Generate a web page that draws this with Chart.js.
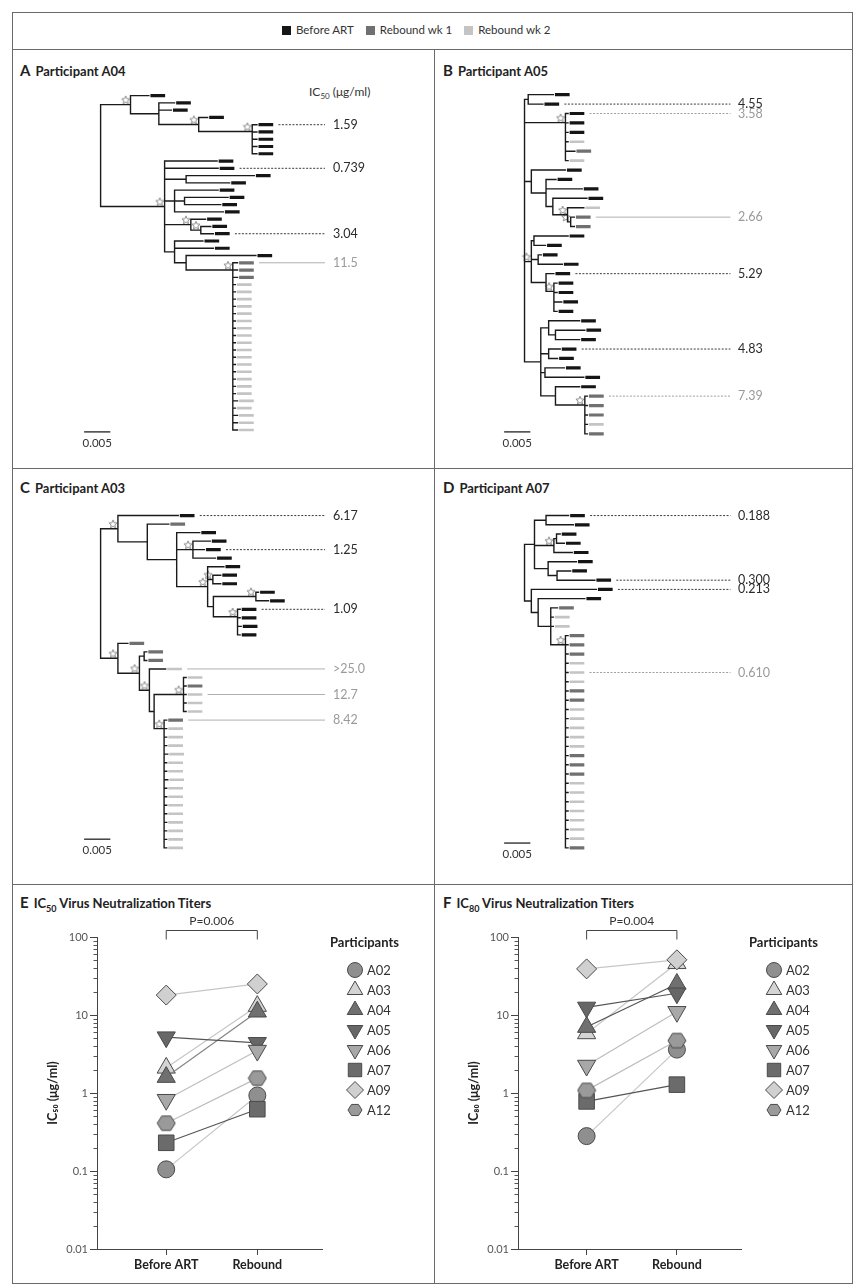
<!DOCTYPE html>
<html>
<head>
<meta charset="utf-8">
<script src="https://cdn.jsdelivr.net/npm/chart.js@4.4.1/dist/chart.umd.min.js"></script>
<style>
  body { margin: 0; background: #fff; font-family: Lato, "Open Sans", sans-serif; color: #222; }
  #fig { position: relative; width: 856px; height: 1286px; overflow: hidden; }
  .ln { position: absolute; background: #6a6a6a; }
  .ttl { position: absolute; font-weight: bold; font-size: 13px; color: #222; white-space: nowrap; }
  .ttl .L { font-size: 15px; margin-right: 5px; }
  .ttl sub { font-size: 9px; }
  #legend { position: absolute; left: 270px; top: 23px; font-size: 11.5px; color: #333; white-space: nowrap; }
  #legend span.sw { display: inline-block; width: 9px; height: 9px; margin: 0 5px -1px 12px; }
  #unit { position: absolute; left: 309px; top: 84px; font-size: 12px; color: #333; }
  #unit sub { font-size: 8px; }
  canvas { position: absolute; }
</style>
</head>
<body>
<div id="fig">
  <div class="ln" style="left:12px;top:12px;width:841px;height:1px"></div>
  <div class="ln" style="left:12px;top:1283px;width:841px;height:1px"></div>
  <div class="ln" style="left:12px;top:12px;width:1px;height:1272px"></div>
  <div class="ln" style="left:852px;top:12px;width:1px;height:1272px"></div>
  <div class="ln" style="left:12px;top:49px;width:841px;height:1px"></div>
  <div class="ln" style="left:12px;top:468px;width:841px;height:1px"></div>
  <div class="ln" style="left:12px;top:884px;width:841px;height:1px"></div>
  <div class="ln" style="left:434px;top:49px;width:1px;height:1235px"></div>
  <div id="legend"></div>
  <div class="ttl" id="tA" style="left:20px;top:61px"></div>
  <div class="ttl" id="tB" style="left:443px;top:61px"></div>
  <div class="ttl" id="tC" style="left:20px;top:478px"></div>
  <div class="ttl" id="tD" style="left:443px;top:478px"></div>
  <div class="ttl" style="left:20px;top:893px"><span class="L">E</span>IC<sub>50</sub> Virus Neutralization Titers</div>
  <div class="ttl" style="left:443px;top:893px"><span class="L">F</span>IC<sub>80</sub> Virus Neutralization Titers</div>
  <div id="unit">IC<sub>50</sub> (μg/ml)</div>
</div>
<script>
// ---- data ----
const groupNames = ['Before ART', 'Rebound wk 1', 'Rebound wk 2'];
const panelIds = ['A04', 'A05', 'A03', 'A07'];

// trees: branch lengths in 0.001 substitutions/site, B = before ART, R1 = rebound wk 1, R2 = rebound wk 2
// ! = tip with an IC50 value, * = starred node, [...] = comb of tips on one vertical
const treeA04 = '(' +
  '(B:3.5,(B:3,B:2.4,(B:1.7,[B!:0.9,B:0.9,B:0.9,B:0.9,B:0.9]*:10.2)*:7.6):5.4)*:5.7,' +
  '(B:10,B!:10.2,(B:13,B:8.3):4.1,(B:8.3,(B:8.3,B:6.9):1.9,B:9.3):1.9,(B:2.8,(B:1.9,B!:2.4)*:1.9)*:5,' +
  '(B:5.4,B:7.4,(B:13.3,[R1!:0.9,R1:0.9,R1:0.9,R2:0.5,R2:0.5,R2:0.5,R2:0.5,R2:0.5,R2:0.5,R2:0.5,R2:0.5,' +
  'R2:0.5,R2:0.5,R2:0.5,R2:0.5,R2:0.5,R2:0.5,R2:0.5,R2:0.5,R2:0.9,R2:0.5,R2:0.9,R2:0.9,R2:0.9]*:8.9):2.2):1.9)*:12.2)';
const treeA05 = '(' +
  '(B:4.8,B!:2.8):0.7,' +
  '[B!:0.5,B:0.5,B:0.5,R2:0.5,R1:1.8,R2:0.5]*:7.8,' +
  '(B:6.5,(B:1.9,B:6.9,(B:6.5,(R2:3.1,(R1!:0.7,R1:0.7)*:0.6)*:2.8):1.3):2.8):1.3,' +
  '((B:6.5,B:2.2):0.5,(B:0.6,B:4.6):1.3,(B!:1.5,[B:0.6,B:0.6,B:1.5,B:0.6]*:1.5):2.8)*:1.3,' +
  '((B:5.9,(B:5.6,B:4.6):1.3):1.5,(B!:2.2,B:1.7):1.5,(B:3.7,B:7.4):0.8,(B:4.6,[R1!:0.5,R1:0.5,R1:0.5,R2:0.5,R1:0.5]*:5.6):2.8):3.1)';
const treeA03 = '(' +
  '(B!:11.5,(R1:4.1,(B:4.4,(B:3.3,B!:2.2,B:4.3)*:3.1,(B:3.1,(B:1.5,B:1.5)*:1,((B:0.5,B:2.4)*:8.1,[B!:0.5,B:0.5,B:0.7,B:0.5]*:4.6):1.1)*:5.9):5.6):5.6)*:3.3,' +
  '(R1:1.9,((R1:0.5,R1:0.5):0.9,(R2!:3.1,((R2:0.5,R1:0.5,R2!:0.5,R2:0.5,R2:0.5)*:5.6,' +
  '[R1!:0.5,R2:0.5,R2:0.5,R2:0.5,R2:0.7,R2:0.5,R2:0.5,R2:0.7,R2:0.5,R2:0.5,R2:0.5,R2:0.5,R2:0.5,R2:0.5,R2:0.5,R2:0.5]*:1.9):0.9)*:1.9)*:4.1)*:3.3)';
const treeA07 = '(' +
  '((B!:4.3,B:5.2):2.2,((B:0.7,B:1.5):0.5,B:3.5)*:3.7,(B:5.4,(B:2.6,B!:7.2):1.7):2.6):1.9,' +
  '(B!:12.4,(B:8.9,(R1:1.3,R2:0.5,R2:0.5,[R1:0.5,R1:0.5,R1:0.5,R2:0.5,R2!:0.5,R2:0.5,R1:0.5,R1:0.5,R2:0.5,R2:0.5,R2:0.5,' +
  'R2:0.5,R2:0.5,R1:0.5,R1:0.5,R1:0.5,R2:0.5,R2:0.5,R2:0.5,R2:0.5,R2:0.5,R2:0.5,R2:0.5,R1:0.5]*:2.8):2.4):1.3):1.3)';

const ic50A04 = ['1.59', '0.739', '3.04', '11.5'];
const toneA04 = ['k', 'k', 'k', 'g'];
const ic50A05 = ['4.55', '3.58', '2.66', '5.29', '4.83', '7.39'];
const toneA05 = ['k', 'gd', 'g', 'k', 'k', 'gd'];
const ic50A03 = ['6.17', '1.25', '1.09', '>25.0', '12.7', '8.42'];
const toneA03 = ['k', 'k', 'k', 'g', 'g', 'g'];
const ic50A07 = ['0.188', '0.300', '0.213', '0.610'];
const toneA07 = ['k', 'k', 'k', 'gd'];
const scaleBarValue = 0.005;

const participants = ['A02', 'A03', 'A04', 'A05', 'A06', 'A07', 'A09', 'A12'];
const ic50Before  = [0.105, 2.1, 1.6, 5.2, 0.82, 0.23, 18, 0.41];
const ic50Rebound = [0.93, 13, 11, 4.4, 3.5, 0.62, 25, 1.55];
const ic80Before  = [0.28, 5.8, 7.0, 12.5, 2.25, 0.78, 39, 1.08];
const ic80Rebound = [3.6, 46, 25, 19, 11, 1.28, 51, 4.7];
const timeLabels = ['Before ART', 'Rebound'];
const yTickValues = [0.01, 0.1, 1, 10, 100];
const yTickLabels = ['0.01', '0.1', '1', '10', '100'];

// ---- styles ----
Chart.defaults.font.family = "Lato, 'Open Sans', sans-serif";
const PX = 5.4; // pixels per 0.001 substitutions/site
const BAR_GAP = 0.3, BAR_LEN = 2.8;
const groupColor = { B: '#151515', R1: '#707070', R2: '#c4c4c4' };
const groupWidth = { B: 3.2, R1: 3.2, R2: 2.6 };

document.getElementById('legend').innerHTML = groupNames.map((g, i) =>
  `<span class="sw" style="background:${[groupColor.B, groupColor.R1, groupColor.R2][i]}"></span>${g}`).join('');
['tA', 'tB', 'tC', 'tD'].forEach((id, i) => {
  document.getElementById(id).innerHTML = `<span class="L">${'ABCD'[i]}</span>Participant ${panelIds[i]}`;
});

function parseTree(src) {
  const s = src.replace(/\s+/g, '');
  let i = 0;
  function ladder(kids) {
    if (kids.length <= 2) return kids;
    return [kids[0], { children: ladder(kids.slice(1)), len: 0 }];
  }
  function readNode() {
    const node = { children: [], len: 0 };
    const open = s[i];
    if (open === '(' || open === '[') {
      i++;
      const kids = [readNode()];
      while (s[i] === ',') { i++; kids.push(readNode()); }
      i++;
      node.children = open === '[' ? ladder(kids) : kids;
    } else {
      let name = '';
      while (i < s.length && /[A-Z0-9!]/.test(s[i])) name += s[i++];
      node.group = name.replace('!', '');
      node.marked = name.indexOf('!') >= 0;
    }
    if (s[i] === '*') { node.star = true; i++; }
    if (s[i] === ':') {
      i++;
      let num = '';
      while (i < s.length && /[0-9.]/.test(s[i])) num += s[i++];
      node.len = parseFloat(num);
    }
    return node;
  }
  return readNode();
}

function place(node, parentX, tips) {
  node.x = parentX + node.len;
  if (!node.children.length) { node.y = tips.length; tips.push(node); return; }
  node.children.forEach(c => place(c, node.x, tips));
  node.y = (node.children[0].y + node.children[node.children.length - 1].y) / 2;
}

const gap = () => ({ x: NaN, y: NaN });

function makeStar(size, color) {
  const c = document.createElement('canvas');
  c.width = c.height = size;
  const g = c.getContext('2d');
  const r = size / 2 - 0.7, cx = size / 2, cy = size / 2 + 0.4;
  g.beginPath();
  for (let k = 0; k < 10; k++) {
    const a = -Math.PI / 2 + k * Math.PI / 5, rr = k % 2 ? r * 0.45 : r;
    g.lineTo(cx + rr * Math.cos(a), cy + rr * Math.sin(a));
  }
  g.closePath();
  g.strokeStyle = color; g.lineWidth = 0.9; g.stroke();
  return c;
}
const starImg = makeStar(10, '#808080');

function makeCanvas(box) {
  const c = document.createElement('canvas');
  c.width = box.width; c.height = box.height;
  c.style.left = box.left + 'px'; c.style.top = box.top + 'px';
  c.style.width = box.width + 'px'; c.style.height = box.height + 'px';
  document.getElementById('fig').appendChild(c);
  return c;
}

const tipText = {
  id: 'tipText',
  afterDatasetsDraw(chart, args, o) {
    const { ctx, scales: { x, y } } = chart;
    ctx.save();
    ctx.font = '12.5px Lato, sans-serif';
    ctx.textBaseline = 'middle';
    o.items.forEach(it => {
      ctx.fillStyle = it.color;
      ctx.fillText(it.text, o.textX, y.getPixelForValue(it.y));
    });
    ctx.font = '11.5px Lato, sans-serif';
    ctx.fillStyle = '#333';
    ctx.textAlign = 'center';
    ctx.fillText(o.bar.text, x.getPixelForValue(o.bar.x + o.bar.len / 2), y.getPixelForValue(o.bar.y) + 11);
    ctx.restore();
  }
};

function treeChart(newick, ic50, tones, cfg) {
  const root = parseTree(newick);
  const tips = [];
  place(root, 0, tips);
  const spacing = (cfg.lastY - cfg.firstY) / (tips.length - 1);
  const toX = px => (px - cfg.rootX) / PX;
  const toY = py => (py - cfg.firstY) / spacing;

  const branches = [], stars = [], labK = [], labG = [], labGD = [];
  const bars = { B: [], R1: [], R2: [] };
  (function walk(n) {
    if (!n.children.length) return;
    const a = n.children[0], b = n.children[n.children.length - 1];
    branches.push({ x: n.x, y: a.y }, { x: n.x, y: b.y }, gap());
    n.children.forEach(c => {
      branches.push({ x: n.x, y: c.y }, { x: c.x, y: c.y }, gap());
      walk(c);
    });
    if (n.star) stars.push({ x: n.x - 5 / PX, y: n.y - 5 / spacing });
  })(root);

  const items = [];
  let k = 0;
  tips.forEach(t => {
    const x0 = t.x + BAR_GAP, x1 = x0 + BAR_LEN;
    bars[t.group].push({ x: x0, y: t.y }, { x: x1, y: t.y }, gap());
    if (t.marked) {
      const tone = tones[k];
      const seg = [{ x: x1 + 1, y: t.y }, { x: toX(cfg.labelX - 5), y: t.y }, gap()];
      (tone === 'k' ? labK : tone === 'g' ? labG : labGD).push(...seg);
      items.push({ text: ic50[k], y: t.y, color: tone === 'k' ? '#2a2a2a' : '#9a9a9a' });
      k++;
    }
  });

  const barLen = scaleBarValue * 1000;
  const sb = { x: toX(cfg.barX), y: toY(cfg.barY), len: barLen, text: String(scaleBarValue) };

  const line = (data, color, width, extra) => Object.assign({
    data, showLine: true, borderColor: color, borderWidth: width, pointRadius: 0,
    borderCapStyle: 'butt', spanGaps: false
  }, extra || {});

  const canvas = makeCanvas(cfg);
  new Chart(canvas, {
    type: 'scatter',
    data: {
      datasets: [
        line(labG, '#b0b0b0', 1),
        line(labGD, '#a0a0a0', 1, { borderDash: [2, 1.5] }),
        line(labK, '#3a3a3a', 1, { borderDash: [2, 1.5] }),
        line(branches, '#1a1a1a', 1.4, { borderCapStyle: 'square' }),
        line(bars.R2, groupColor.R2, groupWidth.R2),
        line(bars.R1, groupColor.R1, groupWidth.R1),
        line(bars.B, groupColor.B, groupWidth.B),
        line([{ x: sb.x, y: sb.y }, { x: sb.x + barLen, y: sb.y }], '#222', 1.3),
        { data: stars, showLine: false, pointStyle: starImg, pointRadius: 5 }
      ]
    },
    options: {
      responsive: false, animation: false, events: [],
      layout: { padding: 0 },
      plugins: {
        legend: { display: false }, tooltip: { enabled: false },
        tipText: { items, textX: cfg.labelX - cfg.left, bar: sb }
      },
      scales: {
        x: { type: 'linear', display: false, min: toX(cfg.left), max: toX(cfg.left + cfg.width) },
        y: { type: 'linear', display: false, reverse: true, min: toY(cfg.top), max: toY(cfg.top + cfg.height) }
      }
    },
    plugins: [tipText]
  });
}

treeChart(treeA04, ic50A04, toneA04, { left: 13, top: 78, width: 421, height: 388, rootX: 97, firstY: 90, lastY: 435, labelX: 333, barX: 80, barY: 437 });
treeChart(treeA05, ic50A05, toneA05, { left: 435, top: 78, width: 417, height: 388, rootX: 521, firstY: 89, lastY: 439, labelX: 738, barX: 500, barY: 437 });
treeChart(treeA03, ic50A03, toneA03, { left: 13, top: 496, width: 421, height: 386, rootX: 97, firstY: 510, lastY: 853, labelX: 333, barX: 80, barY: 844 });
treeChart(treeA07, ic50A07, toneA07, { left: 435, top: 496, width: 417, height: 386, rootX: 521, firstY: 510, lastY: 853, labelX: 738, barX: 500, barY: 848 });

// ---- titer panels ----
function makeHex(size, fill) {
  const c = document.createElement('canvas');
  c.width = c.height = size;
  const g = c.getContext('2d');
  const r = size / 2 - 1;
  g.beginPath();
  for (let k = 0; k < 6; k++) {
    const a = k * Math.PI / 3;
    g.lineTo(size / 2 + r * Math.cos(a), size / 2 + r * 0.92 * Math.sin(a));
  }
  g.closePath();
  g.fillStyle = fill; g.fill();
  g.strokeStyle = '#4a4a4a'; g.lineWidth = 1; g.stroke();
  return c;
}
const fills = ['#8f8f8f', '#d4d4d4', '#707070', '#676767', '#a8a8a8', '#6b6b6b', '#d0d0d0', '#9a9a9a'];
const shapes = ['circle', 'triangle', 'triangle', 'triangle', 'triangle', 'rect', 'rectRot', makeHex(20, fills[7])];
const legendShapes = shapes.slice(0, 7).concat([makeHex(16, fills[7])]);
const rotations = [0, 0, 0, 180, 180, 0, 0, 0];
const radii = [8.5, 10.5, 10.5, 10.5, 10.5, 11, 10, 10];
const legendRadii = [7.5, 9, 9, 9, 9, 9.5, 8.5, 8];
const lineColors = [
  ['#c6c6c6', '#c6c6c6', '#858585', '#555', '#bdbdbd', '#555', '#c6c6c6', '#bdbdbd'],
  ['#c6c6c6', '#c6c6c6', '#555', '#555', '#bdbdbd', '#555', '#c6c6c6', '#bdbdbd']
];

const bracket = {
  id: 'bracket',
  afterDraw(chart, args, o) {
    const { ctx, scales: { x }, chartArea } = chart;
    const x0 = x.getPixelForValue(0), x1 = x.getPixelForValue(1), yb = Math.round(chartArea.top - 7) + 0.5;
    ctx.save();
    ctx.strokeStyle = '#444'; ctx.lineWidth = 1;
    ctx.beginPath();
    ctx.moveTo(x0, yb + 9); ctx.lineTo(x0, yb); ctx.lineTo(x1, yb); ctx.lineTo(x1, yb + 9);
    ctx.stroke();
    ctx.fillStyle = '#333'; ctx.font = '12px Lato, sans-serif';
    ctx.textAlign = 'center'; ctx.textBaseline = 'bottom';
    ctx.fillText(o.text, (x0 + x1) / 2, yb - 3);
    ctx.restore();
  }
};

const minorTicks = {
  id: 'minorTicks',
  afterDraw(chart) {
    const { ctx, scales: { y }, chartArea } = chart;
    ctx.save();
    ctx.strokeStyle = '#555'; ctx.lineWidth = 1;
    ctx.beginPath();
    for (let e = -2; e < 2; e++) {
      for (let m = 2; m <= 9; m++) {
        const py = Math.round(y.getPixelForValue(m * Math.pow(10, e))) + 0.5;
        ctx.moveTo(chartArea.left - 3.5, py); ctx.lineTo(chartArea.left, py);
      }
    }
    ctx.stroke();
    ctx.restore();
  }
};

const partLegend = {
  id: 'partLegend',
  afterDraw(chart) {
    const { ctx, chartArea } = chart;
    const x0 = chartArea.right;
    const top = chartArea.top;
    ctx.save();
    ctx.fillStyle = '#222';
    ctx.font = 'bold 13px Lato, sans-serif';
    ctx.textBaseline = 'middle';
    ctx.fillText('Participants', x0 + 8, top + 6);
    ctx.font = '13px Lato, sans-serif';
    chart.data.datasets.forEach((ds, i) => {
      const cy = top + 33 + i * 20;
      ctx.fillStyle = fills[i];
      ctx.strokeStyle = '#4a4a4a';
      ctx.lineWidth = 1;
      Chart.helpers.drawPoint(ctx, { pointStyle: legendShapes[i], radius: legendRadii[i], rotation: rotations[i], borderWidth: 1 }, x0 + 33, cy);
      ctx.fillStyle = '#333';
      ctx.fillText(ds.label, x0 + 45, cy + 1);
    });
    ctx.restore();
  }
};

function titerChart(before, rebound, colors, pText, yTitle, box) {
  const canvas = makeCanvas(box);
  const datasets = participants.map((p, i) => ({
    label: p,
    data: [{ x: 0, y: before[i] }, { x: 1, y: rebound[i] }],
    showLine: true,
    borderColor: colors[i], borderWidth: 1.2,
    pointStyle: shapes[i], pointRotation: rotations[i], pointRadius: radii[i],
    pointBackgroundColor: fills[i], pointBorderColor: '#4a4a4a', pointBorderWidth: 1,
    order: participants.length - i
  }));
  new Chart(canvas, {
    type: 'scatter',
    data: { datasets },
    options: {
      responsive: false, animation: false, events: [],
      layout: { padding: box.pad },
      plugins: { legend: { display: false }, tooltip: { enabled: false }, bracket: { text: pText } },
      scales: {
        x: {
          type: 'linear', min: -0.76, max: 1.71,
          afterBuildTicks: s => { s.ticks = [{ value: 0 }, { value: 1 }]; },
          afterFit: s => { s.height = 28; },
          ticks: { callback: (v, i) => timeLabels[i], font: { weight: 'bold', size: 12.5 }, color: '#222', padding: 2, maxRotation: 0 },
          grid: { drawOnChartArea: false, tickLength: 6, color: '#444' },
          border: { color: '#444' }
        },
        y: {
          type: 'logarithmic', min: 0.01, max: 100,
          afterBuildTicks: s => { s.ticks = yTickValues.map(v => ({ value: v })); },
          afterFit: s => { s.width = 52; },
          ticks: { callback: (v, i) => yTickLabels[i], font: { size: 11 }, color: '#555', padding: 2, autoSkip: false },
          grid: { drawOnChartArea: false, tickLength: 7, color: '#444' },
          border: { color: '#444' },
          title: { display: true, text: yTitle, font: { weight: 'bold', size: 12.5 }, color: '#222', padding: 0 }
        }
      }
    },
    plugins: [bracket, minorTicks, partLegend]
  });
}

titerChart(ic50Before, ic50Rebound, lineColors[0], 'P=0.006', 'IC₅₀ (μg/ml)',
  { left: 13, top: 895, width: 421, height: 387, pad: { left: 32, right: 112, top: 42, bottom: 5 } });
titerChart(ic80Before, ic80Rebound, lineColors[1], 'P=0.004', 'IC₈₀ (μg/ml)',
  { left: 435, top: 895, width: 417, height: 387, pad: { left: 31, right: 111, top: 42, bottom: 5 } });
</script>
</body>
</html>
